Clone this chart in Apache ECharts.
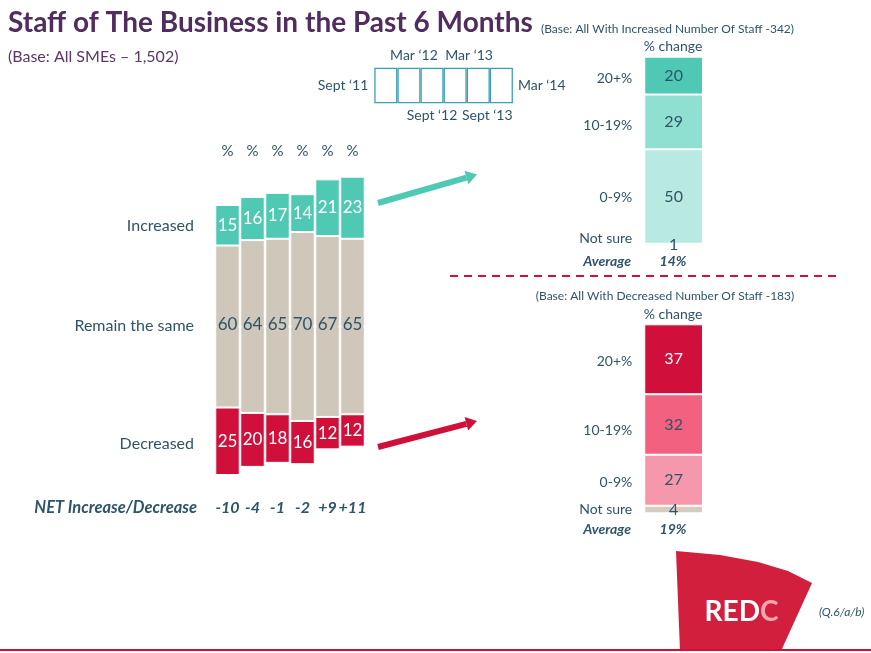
<!DOCTYPE html>
<html>
<head>
<meta charset="utf-8">
<title>Staff of The Business in the Past 6 Months</title>
<script src="https://cdn.jsdelivr.net/npm/echarts@6/dist/echarts.min.js"></script>
<style>
    html, body { margin: 0; padding: 0; background: #fff; }
    #chart { width: 871px; height: 653px; }
</style>
</head>
<body>
<div id="chart"></div>
<script>
// waves (Sept '11 .. Mar '14)
var periods = ['Sept \u201811', 'Mar \u201812', 'Sept \u201812', 'Mar \u201813', 'Sept \u201813', 'Mar \u201814'];
var increased = [15, 16, 17, 14, 21, 23];
var remainSame = [60, 64, 65, 70, 67, 65];
var decreased = [25, 20, 18, 16, 12, 12];
var netLabels = ['-10', '-4', '-1', '-2', '+9', '+11'];

// % change among those who increased / decreased staff
var changeBands = ['20+%', '10-19%', '0-9%', 'Not sure'];
var incShares = [20, 29, 50, 1];
var decShares = [37, 32, 27, 4];
var incAverage = '14%';
var decAverage = '19%';

var FONT = 'Lato';
var TXT = '#2f5468';
var TEAL = '#4fc9b3', BEIGE = '#cfc7ba', RED = '#d0103a';

var chart = echarts.init(document.getElementById('chart'));

// bars are centred on the middle of "remain the same"
var centre = 60;
var baseOffset = decreased.map(function (d, i) { return centre - d - remainSame[i] / 2; });
var halfSame = remainSame.map(function (s) { return s / 2; });

function segLabel(color) {
    return { show: true, position: 'inside', color: color, fontFamily: FONT, fontSize: 17 };
}

var series = [
    { type: 'bar', stack: 'm', data: baseOffset, itemStyle: { color: 'transparent' }, silent: true, barCategoryGap: '2%' },
    { type: 'bar', stack: 'm', name: 'Decreased', data: decreased,
      itemStyle: { color: RED, borderColor: '#fff', borderWidth: 1 }, label: segLabel('#fff') },
    { type: 'bar', stack: 'm', name: 'Remain the same', data: halfSame,
      itemStyle: { color: BEIGE, borderColor: '#fff', borderWidth: 1 } },
    { type: 'bar', stack: 'm', name: 'Remain the same', data: halfSame,
      itemStyle: { color: BEIGE, borderColor: '#fff', borderWidth: 1 },
      label: { show: true, position: 'bottom', distance: -10, color: TXT, fontFamily: FONT, fontSize: 17,
               backgroundColor: BEIGE, padding: [0, 1],
               formatter: function (p) { return remainSame[p.dataIndex]; } } },
    { type: 'bar', stack: 'm', name: 'Increased', data: increased,
      itemStyle: { color: TEAL, borderColor: '#fff', borderWidth: 1 }, label: segLabel('#fff') }
];

// timeline boxes
var periodLabelPos = [
    { position: 'left', distance: 6 },
    { position: 'top', distance: 5, offset: [5, 0] },
    { position: 'bottom', distance: 5, offset: [0, 0] },
    { position: 'top', distance: 5, offset: [14, 0] },
    { position: 'bottom', distance: 5, offset: [9, 0] },
    { position: 'right', distance: 5 }
];
series.push({
    type: 'bar', xAxisIndex: 2, yAxisIndex: 1, barCategoryGap: '0%', silent: true,
    data: periods.map(function (p, i) {
        return { value: 1, label: echarts.util.extend({
            show: true, formatter: p, color: TXT, fontFamily: FONT, fontSize: 14 }, periodLabelPos[i]) };
    }),
    itemStyle: { color: 'rgba(255,255,255,0)', borderColor: '#3d9fb6', borderWidth: 1.3 }
});

// detail stacks (label column + bar column)
function detailSeries(shares, colors, valueColors, axisIdx, stackName, nameOffsets) {
    shares.forEach(function (v, i) {
        series.push({
            type: 'bar', stack: stackName, xAxisIndex: axisIdx, yAxisIndex: axisIdx - 1,
            barCategoryGap: '0%', silent: true, name: changeBands[i],
            data: [
                { value: v, itemStyle: { color: 'transparent', borderWidth: 0 },
                  label: { show: true, position: 'insideRight', distance: 12, formatter: changeBands[i],
                           color: TXT, fontFamily: FONT, fontSize: 14, offset: [0, nameOffsets[i]] } },
                { value: v, itemStyle: { color: colors[i], borderColor: '#fff', borderWidth: 1 },
                  label: { show: true, position: 'inside', color: valueColors[i], fontFamily: FONT, fontSize: 16 } }
            ]
        });
    });
}
detailSeries(incShares, ['#50c9b4', '#90e0d2', '#b9eae2', '#d4ccbf'], [TXT, TXT, TXT, TXT], 3, 'inc', [3, 4, 1, -6]);
detailSeries(decShares, [RED, '#f2617f', '#f698ac', '#d4ccbf'], ['#fff', TXT, TXT, TXT], 4, 'dec', [2, 6, 2, 0]);

function hiddenCat(grid, data) {
    return { type: 'category', gridIndex: grid, data: data, show: false };
}
function hiddenVal(grid, max, inverse) {
    return { type: 'value', gridIndex: grid, min: 0, max: max, inverse: !!inverse, show: false };
}

function arrow(x1, y1, x2, y2, color) {
    var dx = x2 - x1, dy = y2 - y1, L = Math.sqrt(dx * dx + dy * dy);
    var ux = dx / L, uy = dy / L, px = -uy, py = ux;
    var hl = 11, hw = 7;
    var bx = x2 - ux * hl, by = y2 - uy * hl;
    return [
        { type: 'line', shape: { x1: x1, y1: y1, x2: bx, y2: by }, style: { stroke: color, lineWidth: 6 } },
        { type: 'polygon', shape: { points: [[x2, y2], [bx + px * hw, by + py * hw], [bx - px * hw, by - py * hw]] },
          style: { fill: color } }
    ];
}

function txt(x, y, text, font, fill, align) {
    return { type: 'text', silent: true,
             style: { x: x, y: y, text: text, font: font, fill: fill || TXT, align: align || 'left', verticalAlign: 'middle' } };
}

var graphics = [
    txt(8, 23, 'Staff of The Business in the Past 6 Months', 'bold 28px ' + FONT, '#512c5e'),
    txt(8, 57, '(Base: All SMEs \u2013 1,502)', '16px ' + FONT, '#5e3569'),
    txt(541, 29, '(Base: All With Increased Number Of Staff -342)', '12px ' + FONT),
    txt(673, 46, '% change', '14px ' + FONT, TXT, 'center'),
    txt(631, 261, 'Average', 'italic bold 14px ' + FONT, TXT, 'right'),
    txt(673, 261, incAverage, 'italic bold 14px ' + FONT, TXT, 'center'),
    txt(665, 296, '(Base: All With Decreased Number Of Staff -183)', '12px ' + FONT, TXT, 'center'),
    txt(673, 314, '% change', '14px ' + FONT, TXT, 'center'),
    txt(631, 529, 'Average', 'italic bold 14px ' + FONT, TXT, 'right'),
    txt(673, 529, decAverage, 'italic bold 14px ' + FONT, TXT, 'center'),
    txt(194, 226, 'Increased', '16px ' + FONT, TXT, 'right'),
    txt(194, 326, 'Remain the same', '16px ' + FONT, TXT, 'right'),
    txt(194, 444, 'Decreased', '16px ' + FONT, TXT, 'right'),
    txt(197, 508, 'NET Increase/Decrease', 'italic bold 16.5px ' + FONT, TXT, 'right'),
    { type: 'line', silent: true, shape: { x1: 450, y1: 276, x2: 840, y2: 276 },
      style: { stroke: RED, lineWidth: 2, lineDash: [8, 6] } },
    { type: 'polygon', silent: true,
      shape: { points: [[676, 551], [720, 555], [758, 562], [788, 571], [812, 583], [781, 651], [680, 651]] },
      style: { fill: '#d21f3e' } },
    txt(760, 612, 'RED', 'bold 28px ' + FONT, '#ffffff', 'right'),
    txt(760, 612, 'C', 'bold 28px ' + FONT, '#f2a5ad', 'left'),
    txt(819, 612, '(Q.6/a/b)', 'italic 12px ' + FONT, TXT),
    { type: 'line', silent: true, shape: { x1: 0, y1: 650, x2: 871, y2: 650 }, style: { stroke: RED, lineWidth: 2 } }
].concat(arrow(378, 203, 477, 174.5, TEAL), arrow(378, 447, 477, 421, RED));

chart.setOption({
    animation: false,
    textStyle: { fontFamily: FONT },
    grid: [
        { left: 215, top: 164.5, width: 150, height: 324 },
        { left: 374.3, top: 67.7, width: 138.6, height: 35.6 },
        { left: 585.5, top: 56.7, width: 117.5, height: 189 },
        { left: 585.5, top: 324.3, width: 117.5, height: 189 }
    ],
    xAxis: [
        { type: 'category', gridIndex: 0, position: 'top', data: periods,
          axisLine: { show: false }, axisTick: { show: false },
          axisLabel: { interval: 0, formatter: function () { return '%'; }, margin: 6, color: TXT, fontSize: 15, fontFamily: FONT } },
        { type: 'category', gridIndex: 0, position: 'bottom', data: netLabels,
          axisLine: { show: false }, axisTick: { show: false },
          axisLabel: { interval: 0, margin: 11, color: TXT, fontSize: 16, fontWeight: 'bold', fontStyle: 'italic', fontFamily: FONT } },
        hiddenCat(1, periods),
        hiddenCat(2, ['label', 'bar']),
        hiddenCat(3, ['label', 'bar'])
    ],
    yAxis: [
        { type: 'value', gridIndex: 0, min: 0, max: 120, show: false },
        hiddenVal(1, 1),
        hiddenVal(2, 100, true),
        hiddenVal(3, 100, true)
    ],
    series: series,
    graphic: graphics
});
</script>
</body>
</html>
